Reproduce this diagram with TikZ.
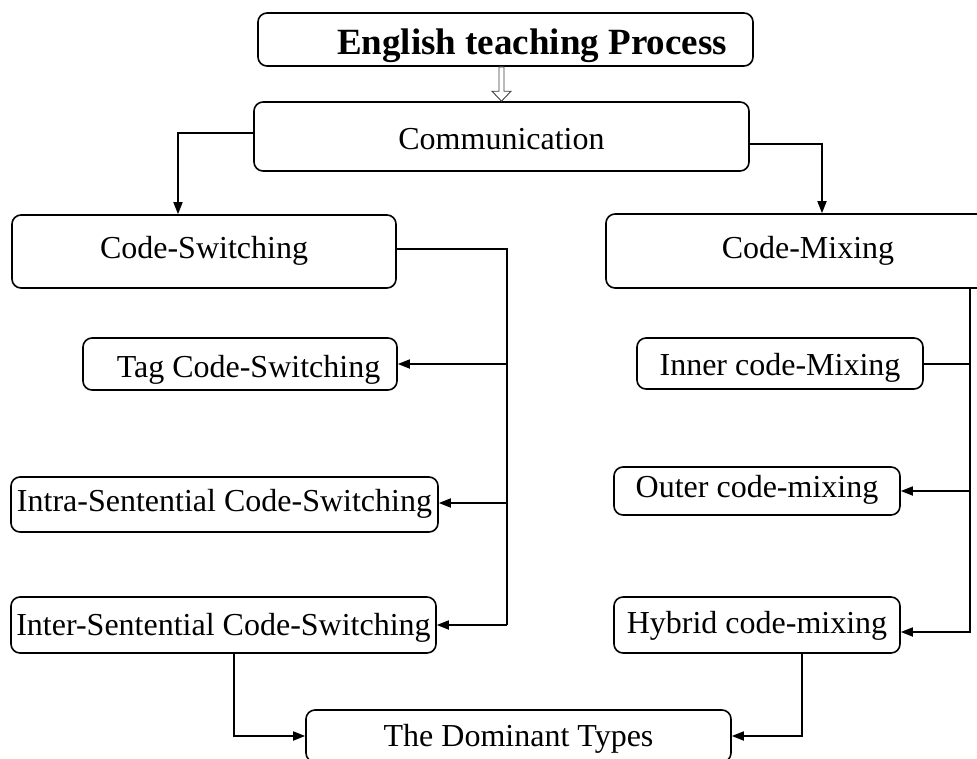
\documentclass[tikz,border=0pt]{standalone}
\usepackage{fontspec}
\setmainfont{Liberation Serif}
\usetikzlibrary{arrows.meta}
\tikzset{
  box/.style={draw, line width=1.6pt, rounded corners=9pt, inner sep=0pt,
    font=\fontsize{32}{36}\selectfont},
  bl/.style={text height={20pt+#1}, text depth={20pt-#1}},
  ln/.style={line width=1.7pt},
  arr/.style={line width=1.7pt, -{Triangle[length=12pt,width=9pt]}},
}
\begin{document}
\begin{tikzpicture}[x=1pt,y=-1pt]
\clip (0,0) rectangle (977,758);
\fill[white] (0,0) rectangle (977,758);

\node[box, bl=15pt, minimum width=495pt, minimum height=53pt, font=\bfseries\fontsize{37}{40}\selectfont]
  (top) at (505.5,39.5) {\hspace*{53pt}English teaching Process};
\node[box, bl=13pt, minimum width=495pt, minimum height=69pt] (comm) at (501.5,136.5) {Communication};
\node[box, bl=7pt, minimum width=384pt, minimum height=73pt] (cs) at (204,251.5) {Code-Switching};
\node[box, bl=7.5pt, minimum width=404pt, minimum height=74pt] (cm) at (808,251) {Code-Mixing};
\node[box, bl=13pt, minimum width=314pt, minimum height=52pt] (tag) at (240,364) {\hspace*{17pt}Tag Code-Switching};
\node[box, bl=7pt, minimum width=427pt, minimum height=55pt] (intra) at (224.5,504.5) {Intra-Sentential Code-Switching};
\node[box, bl=10pt, minimum width=425pt, minimum height=56pt] (inter) at (223.5,625) {Inter-Sentential Code-Switching};
\node[box, bl=12pt, minimum width=286pt, minimum height=51pt] (inner) at (780,363.5) {Inner code-Mixing};
\node[box, bl=6.5pt, minimum width=286pt, minimum height=48pt] (outer) at (757,491) {Outer code-mixing};
\node[box, bl=8pt, minimum width=286pt, minimum height=56pt] (hybrid) at (757,625) {Hybrid code-mixing};
\node[box, bl=10.5pt, minimum width=425pt, minimum height=52pt] (dom) at (518.5,736) {The Dominant Types};

% hollow arrow
\draw[line width=0.9pt, draw=black!75, fill=white]
  ([shift={(-6.5,0)}]top.south) -- ([shift={(-2.5,-10)}]comm.north)
  -- ([shift={(-9.5,-10)}]comm.north) -- (comm.north)
  -- ([shift={(9.5,-10)}]comm.north) -- ([shift={(2.5,-10)}]comm.north)
  -- ([shift={(-1.5,0)}]top.south) -- cycle;

% communication to branches
\draw[arr] ([yshift=3.5pt]comm.west) -| ([xshift=-26pt]cs.north);
\draw[arr] ([yshift=-7.5pt]comm.east) -| ([xshift=14pt]cm.north);

% left bus
\coordinate (lb1) at (507,249);
\coordinate (lb2) at (507,625);
\coordinate (ia) at ([yshift=1.5pt]intra.east);
\draw[ln] (cs.east |- lb1) -- (lb1) -- (lb2);
\draw[arr] (lb1 |- tag.east) -- (tag.east);
\draw[arr] (lb1 |- ia) -- (ia);
\draw[arr] (lb2) -- (inter.east);

% right bus
\coordinate (rb1) at (970,288);
\coordinate (rb2) at (970,632);
\coordinate (ie) at ([yshift=-0.5pt]inner.east);
\draw[arr] (rb1) -- (rb2) -- ([yshift=-7pt]hybrid.east);
\draw[ln] (ie) -- (ie -| rb1);
\draw[arr] (outer.east -| rb1) -- (outer.east);

% to dominant types
\draw[arr] ([xshift=10.5pt]inter.south) |- (dom.west);
\draw[arr] ([xshift=45pt]hybrid.south) |- (dom.east);
\end{tikzpicture}
\end{document}
